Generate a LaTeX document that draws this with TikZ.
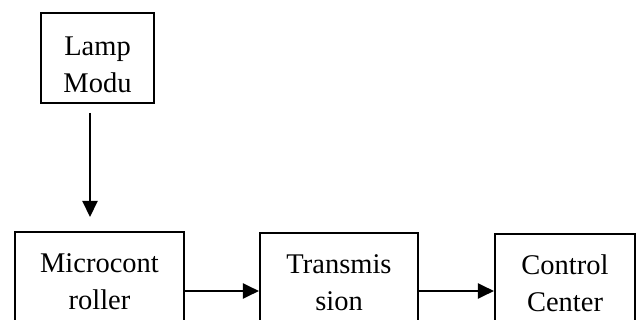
\documentclass[tikz,border=0pt]{standalone}
\usepackage{fontspec}
\setmainfont{Liberation Serif}
\usetikzlibrary{arrows.meta}
\begin{document}
\begin{tikzpicture}[x=1pt,y=-1pt,
  blk/.style={draw,line width=2.1pt,inner sep=0pt},
  txt/.style={align=center,inner sep=0pt,font=\fontsize{28.5}{37}\selectfont},
  arr/.style={line width=2.1pt,-{Triangle[length=16pt,width=15pt]}}]
\useasboundingbox (0,0) rectangle (636,320);
\clip (0,0) rectangle (636,320);
\node[blk,minimum width=113pt,minimum height=90pt] (lamp) at (97.5,58) {};
\node[blk,minimum width=169pt,minimum height=104pt] (micro) at (99.5,284) {};
\node[blk,minimum width=158pt,minimum height=103pt] (trans) at (339,284.5) {};
\node[blk,minimum width=140pt,minimum height=102pt] (ctrl) at (565,285) {};
\node[txt] (lampt) at (97.5,64.5) {Lamp\\Modu};
\node[txt] (microt) at (99.5,282) {Microcont\\roller};
\node[txt] (transt) at (339,283) {Transmis\\sion};
\node[txt] (ctrlt) at (565,283.5) {Control\\Center};
\coordinate (a1) at (90,113);
\coordinate (a2) at (90,217);
\coordinate (row) at (0,291);
\draw[arr] (a1) -- (a2);
\draw[arr] (micro.east |- row) -- (trans.west |- row);
\draw[arr] (trans.east |- row) -- (ctrl.west |- row);
\end{tikzpicture}
\end{document}
